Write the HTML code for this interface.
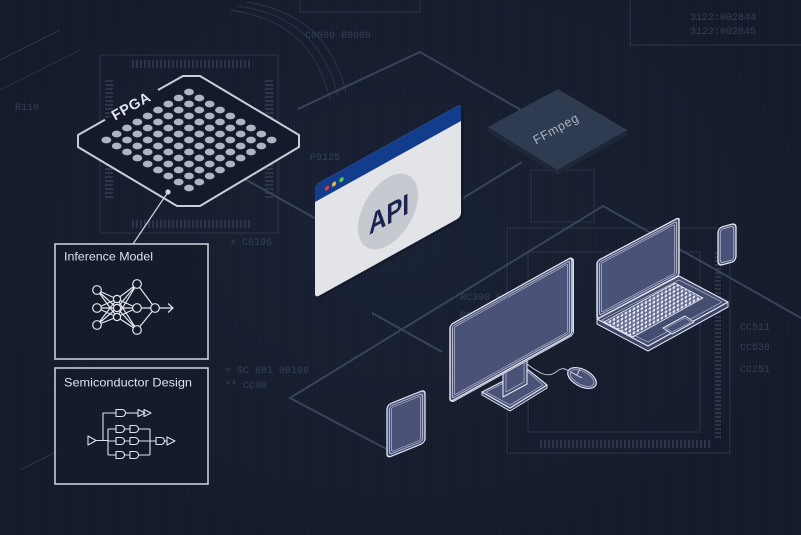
<!DOCTYPE html>
<html><head><meta charset="utf-8"><style>
html,body{margin:0;padding:0;background:#151c2d;}
#wrap{position:relative;width:801px;height:535px;overflow:hidden;background:#151c2d;
background-image:repeating-linear-gradient(90deg,rgba(255,255,255,0.018) 0 1px,transparent 1px 3px),radial-gradient(ellipse at 50% 45%,#182034 0%,#141a2a 80%);}
svg{position:absolute;left:0;top:0;}
</style></head><body><div id="wrap">
<svg width="801" height="535" viewBox="0 0 801 535" xmlns="http://www.w3.org/2000/svg" font-family="Liberation Sans, sans-serif">
<defs>
<pattern id="kb" width="4" height="4" patternUnits="userSpaceOnUse" patternTransform="skewY(-28)">
<rect width="4" height="4" fill="#5b6386"/><rect x="0.6" y="0.6" width="2.6" height="2.6" fill="#e6e9f3"/>
</pattern>
<pattern id="vs" width="4" height="4" patternUnits="userSpaceOnUse">
<rect width="2" height="4" fill="#2c354b"/>
</pattern>
<pattern id="hs" width="4" height="4" patternUnits="userSpaceOnUse">
<rect width="4" height="2" fill="#2c354b"/>
</pattern>
</defs>

<!-- faint circuit texture -->
<g fill="none" stroke="#2a3349" stroke-width="1.2" opacity="0.9">
<rect x="100" y="55" width="178" height="178"/>
<rect x="507" y="228" width="223" height="225"/>
<rect x="528" y="252" width="172" height="180"/>
<rect x="630" y="-2" width="172" height="47"/>
<rect x="300" y="-2" width="120" height="14"/>
<rect x="531" y="170" width="63" height="52"/>
<path d="M230,10 C300,20 320,60 330,100 M238,6 C306,16 328,56 338,96 M246,2 C312,12 336,52 346,92"/>
<path d="M0,60 L60,30 M0,90 L80,50 M20,470 L60,450"/>
</g>
<g>
<rect x="130" y="60" width="120" height="8" fill="url(#vs)"/>
<rect x="130" y="220" width="120" height="8" fill="url(#vs)"/>
<rect x="105" y="80" width="8" height="120" fill="url(#hs)"/>
<rect x="265" y="80" width="8" height="120" fill="url(#hs)"/>
<rect x="715" y="250" width="6" height="190" fill="url(#hs)"/>
<rect x="540" y="440" width="170" height="8" fill="url(#vs)"/>
</g>
<g font-family="Liberation Mono, monospace" font-size="10" fill="#344058">
<text x="690" y="20">3122:002844</text>
<text x="690" y="34">3122:002845</text>
<text x="305" y="38">C0000 B0000</text>
<text x="15" y="110">R110</text>
<text x="460" y="300">RC390 E4</text>
<text x="460" y="318">RC390</text>
<text x="225" y="373">+ SC 601 00106</text>
<text x="225" y="388">** CC90</text>
<text x="740" y="330">CC511</text>
<text x="740" y="350">CC530</text>
<text x="740" y="372">CC251</text>
<text x="230" y="245">+ C0196</text>
<text x="310" y="160">P9125</text>
</g>

<!-- big faint isometric diamond lines -->
<g fill="none" stroke="#39435c" stroke-width="2">
<polyline points="298,109 420,52 540,121"/>
<line x1="200" y1="154" x2="318" y2="220"/>
<line x1="455" y1="203" x2="522" y2="162"/>
<polyline points="801,318 603,206 290,398 392,452"/>
<line x1="372" y1="313" x2="442" y2="352"/>
</g>

<!-- FPGA -->
<polygon points="183,76 200,76 299,135 299,147 200,206 177,206 78,147 78,135" fill="#141a2b"/>
<g fill="none" stroke="#c9cdd8" stroke-width="2" stroke-linejoin="round">
<polyline points="105,119.8 78,135 78,147 177,206 200,206 299,147 299,135 200,76 183,76 158,90"/>
</g>
<text x="131" y="111" transform="rotate(-29.3 131 106)" text-anchor="middle" font-size="14.5" font-weight="bold" fill="#dfe3ec" letter-spacing="0.5">FPGA</text>
<g fill="#adb4c3" id="dots"></g>
<circle cx="168" cy="192" r="2.6" fill="#d3d7e0"/>
<line x1="168" y1="192" x2="133" y2="244" stroke="#c9cdd8" stroke-width="1.3"/>

<!-- Inference Model box -->
<rect x="55" y="244" width="153" height="115" fill="#131a2a" fill-opacity="0.6" stroke="#c7ccd7" stroke-width="1.6"/>
<text x="64" y="260.5" font-size="12" fill="#dde1ea" textLength="89" lengthAdjust="spacingAndGlyphs">Inference Model</text>
<g stroke="#e3e6ee" stroke-width="1.2" fill="none">
<path d="M97,290 L117,299 M97,290 L117,308 M97,290 L117,317 M97,308 L117,299 M97,308 L117,308 M97,308 L117,317 M97,325 L117,299 M97,325 L117,308 M97,325 L117,317"/>
<path d="M117,299 L137,284 M117,299 L137,308 M117,299 L137,330 M117,308 L137,284 M117,308 L137,308 M117,308 L137,330 M117,317 L137,284 M117,317 L137,308 M117,317 L137,330"/>
<path d="M137,284 L155,308 M137,308 L155,308 M137,330 L155,308 M155,308 L173,308 M168,303.5 L173,308 L168,312.5"/>
</g>
<g stroke="#e3e6ee" stroke-width="1.2" fill="#141b2b">
<circle cx="97" cy="290" r="4.3"/><circle cx="97" cy="308" r="4.3"/><circle cx="97" cy="325" r="4.3"/>
<circle cx="117" cy="299" r="3.6"/><circle cx="117" cy="308" r="3.6"/><circle cx="117" cy="317" r="3.6"/>
<circle cx="137" cy="284" r="4.3"/><circle cx="137" cy="308" r="4.3"/><circle cx="137" cy="330" r="4.3"/>
<circle cx="155" cy="308" r="4.3"/>
</g>

<!-- Semiconductor Design box -->
<rect x="55" y="368" width="153" height="116" fill="#131a2a" fill-opacity="0.6" stroke="#c7ccd7" stroke-width="1.6"/>
<text x="64" y="386.5" font-size="12" fill="#dde1ea" textLength="128" lengthAdjust="spacingAndGlyphs">Semiconductor Design</text>
<g stroke="#dfe2ea" stroke-width="1.1" fill="none" stroke-linejoin="round">
<polygon points="88,436 88,445 96,440.5"/>
<path d="M96,440.5 H108 M103,440.5 V413 H116 M108,429 V455"/>
<path d="M108,429 H116 M108,441 H116 M108,455 H116"/>
<path d="M116,409.5 h6 a3.5,3.5 0 0 1 0,7 h-6 z"/>
<path d="M125.5,413 H138"/>
<polygon points="138,409.5 138,416.5 145,413"/>
<polygon points="144,409.5 144,416.5 151,413"/>
<path d="M116,425.5 h5 a3.5,3.5 0 0 1 0,7 h-5 z M130,425.5 h5 a3.5,3.5 0 0 1 0,7 h-5 z"/>
<path d="M116,437.5 h5 a3.5,3.5 0 0 1 0,7 h-5 z M130,437.5 h5 a3.5,3.5 0 0 1 0,7 h-5 z"/>
<path d="M116,451.5 h5 a3.5,3.5 0 0 1 0,7 h-5 z M130,451.5 h5 a3.5,3.5 0 0 1 0,7 h-5 z"/>
<path d="M124.5,429 H130 M124.5,441 H130 M124.5,455 H130 M138.5,429 H150 M138.5,441 H150 M138.5,455 H150 M150,429 V455 M150,441 H156"/>
<path d="M156,437.5 h5 a3.5,3.5 0 0 1 0,7 h-5 z"/>
<path d="M164.5,441 H167"/>
<polygon points="167,437 167,445 175,441"/>
</g>

<!-- FFmpeg chip -->
<polygon points="488,127 557,170 627,130 627,135 557,175 488,132" fill="#1f2839"/>
<polygon points="488,127 558,89 627,130 557,170" fill="#2f3b51"/>
<text x="556" y="133" transform="rotate(-29 556 129)" text-anchor="middle" font-size="12.5" fill="#a9b2c4" letter-spacing="0.6">FFmpeg</text>

<!-- API window -->
<g transform="matrix(1,-0.555,0,1,315,185)">
<rect x="2" y="3" width="147" height="113" rx="5" fill="#0e1424" opacity="0.5"/>
<rect x="0" y="0" width="146" height="113" rx="4" fill="#e3e4e8"/>
<path d="M0,17 V4 a4,4 0 0 1 4,-4 H142 a4,4 0 0 1 4,4 V17 Z" fill="#123c8c"/>
<circle cx="12" cy="9.8" r="2.2" fill="#d8423a"/>
<circle cx="19" cy="9.6" r="2.2" fill="#e4b43a"/>
<circle cx="26.5" cy="9.4" r="2.2" fill="#5ec94a"/>
<ellipse cx="73" cy="67" rx="30" ry="34" fill="#c7c9d1"/>
<text x="74" y="80" text-anchor="middle" font-size="29" font-weight="bold" fill="#1b2350" textLength="40" lengthAdjust="spacingAndGlyphs">API</text>
</g>

<!-- Devices -->
<g stroke-linejoin="round">
<g transform="matrix(1,-0.405,0,1,387,405)">
<rect x="0" y="0" width="38" height="53" rx="4" fill="#4a5277" stroke="#e1e5f0" stroke-width="1.3"/>
<rect x="2.5" y="2.5" width="33" height="48" rx="3" fill="none" stroke="#c9cee0" stroke-width="0.8"/>
<rect x="4.5" y="4.5" width="29" height="44" rx="2" fill="none" stroke="#c9cee0" stroke-width="0.6"/>
</g>
<polygon points="482,395 510,411 547,388 547,385 510,408 482,392" fill="#3d4566" stroke="#dfe3ef" stroke-width="1"/>
<polygon points="482,392 527,369 547,385 510,408" fill="#4a5277" stroke="#e1e5f0" stroke-width="1.2"/>
<polygon points="486,392 527,371 543,385 510,405" fill="none" stroke="#c9cee0" stroke-width="0.6"/>
<polygon points="503,372 527,359 527,384 503,397" fill="#4a5277" stroke="#e1e5f0" stroke-width="1.1"/>
<polygon points="506,372 524,362 524,382 506,392" fill="none" stroke="#c9cee0" stroke-width="0.6"/>
<path d="M527,364 C540,374 548,378 556,372 C562,367 566,368 570,373" fill="none" stroke="#c9cee0" stroke-width="0.9"/>
<g transform="rotate(28 582 378)">
<ellipse cx="582" cy="378" rx="15.5" ry="8.5" fill="#4a5277" stroke="#e1e5f0" stroke-width="1.2"/>
<ellipse cx="582" cy="378" rx="13" ry="6.5" fill="none" stroke="#c9cee0" stroke-width="0.6"/>
<path d="M576,371 V378 M569,378 H582" stroke="#e1e5f0" stroke-width="0.8" fill="none"/>
</g>
<g transform="matrix(1,-0.557,0,1,450,325)">
<rect x="1.5" y="1.5" width="122" height="77" rx="3" fill="#3d4566" stroke="#dfe3ef" stroke-width="1"/>
<rect x="0" y="0" width="122" height="77" rx="3" fill="#4a5277" stroke="#e6e9f3" stroke-width="1.4"/>
<rect x="2.5" y="2.5" width="117" height="72" rx="2" fill="none" stroke="#c9cee0" stroke-width="0.8"/>
<rect x="4.5" y="4.5" width="113" height="68" rx="1.5" fill="#4a5277" stroke="#c9cee0" stroke-width="0.6"/>
</g>
<polygon points="597,319 648,346 728,302 728,307 648,351 597,324" fill="#3d4566" stroke="#dfe3ef" stroke-width="1"/>
<polygon points="597,319 679,276 728,302 648,346" fill="#454d70" stroke="#e1e5f0" stroke-width="1.2"/>
<polygon points="602,320 679,280 722,302 648,342" fill="none" stroke="#c9cee0" stroke-width="0.6"/>
<polygon points="604,322 675,283 703,298 633,337" fill="url(#kb)" stroke="#e1e5f0" stroke-width="0.8"/>
<polygon points="663,328 685,316 694,322 672,334" fill="#4a5277" stroke="#e1e5f0" stroke-width="1"/>
<polygon points="666,328 685,318 691,322 672,332" fill="none" stroke="#c9cee0" stroke-width="0.5"/>
<g transform="matrix(1,-0.53,0,1,597,261)">
<rect x="0" y="0" width="82" height="58" rx="2.5" fill="#4a5277" stroke="#e6e9f3" stroke-width="1.4"/>
<rect x="2.5" y="2.5" width="77" height="53" rx="2" fill="none" stroke="#c9cee0" stroke-width="0.8"/>
<rect x="4.5" y="4.5" width="73" height="49" rx="1.5" fill="#4a5277" stroke="#c9cee0" stroke-width="0.6"/>
</g>
<g transform="matrix(1,-0.28,0,1,718,228)">
<rect x="0" y="0" width="18" height="38" rx="4.5" fill="#4a5277" stroke="#e6e9f3" stroke-width="1.3"/>
<rect x="2.2" y="2.2" width="13.6" height="33.6" rx="3" fill="none" stroke="#c9cee0" stroke-width="0.7"/>
</g>
</g>
</svg>
<script>
(function(){
var g=document.getElementById('dots');var ns='http://www.w3.org/2000/svg';
for(var i=0;i<9;i++)for(var j=0;j<9;j++){var e=document.createElementNS(ns,'ellipse');
e.setAttribute('cx',(189+(j-i)*10.33).toFixed(2));e.setAttribute('cy',(92+(i+j)*6).toFixed(2));
e.setAttribute('rx','4.9');e.setAttribute('ry','3.4');g.appendChild(e);}
})();
</script>
</div></body></html>
